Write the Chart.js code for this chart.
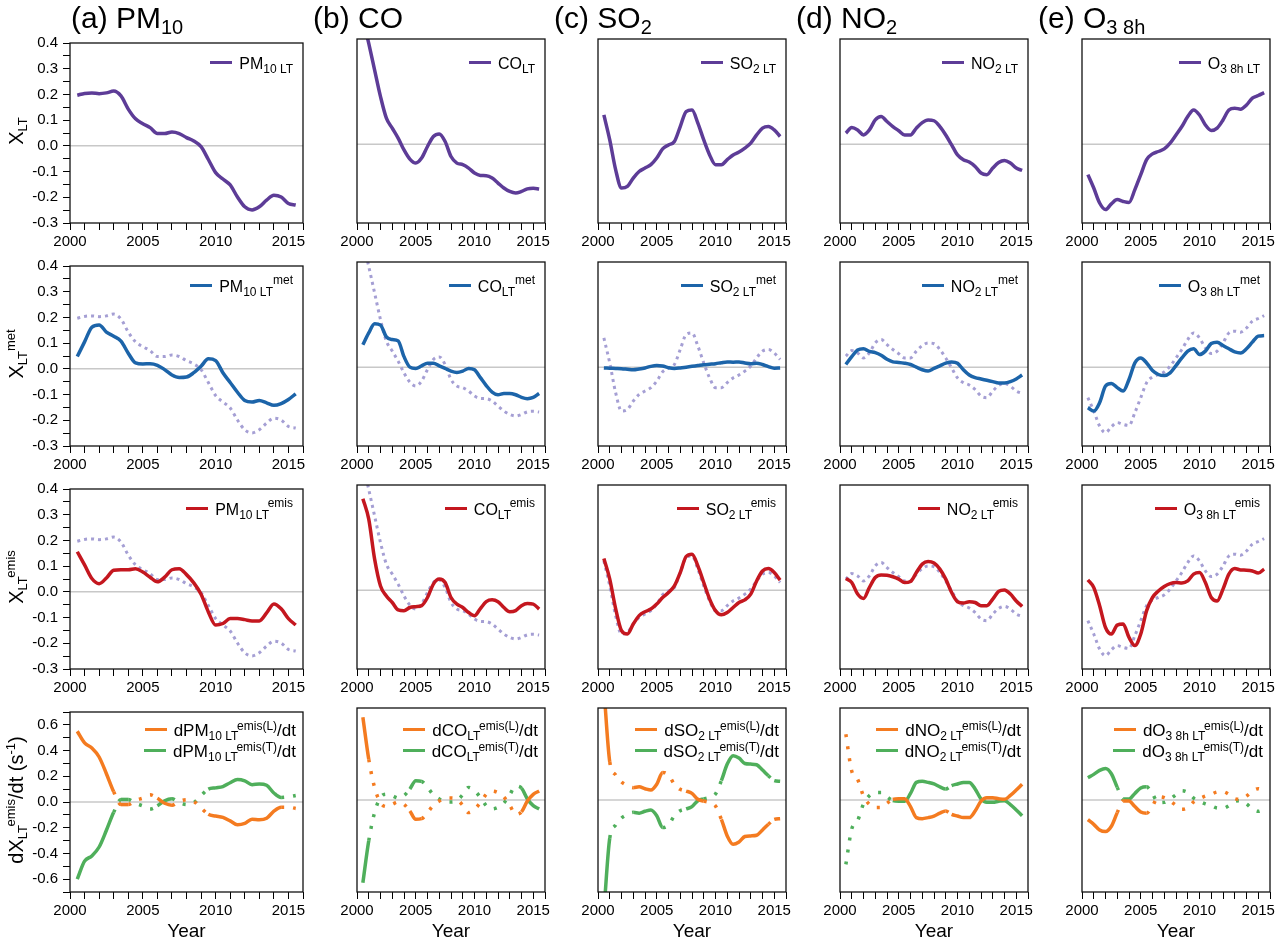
<!DOCTYPE html>
<html>
<head>
<meta charset="utf-8">
<title>Long-term components by pollutant</title>
<script src="https://cdn.jsdelivr.net/npm/chart.js@4.4.1/dist/chart.umd.min.js"></script>
<style>
  body { margin: 0; background: #fff; font-family: "Liberation Sans", Arial, Helvetica, sans-serif; color: #000; }
  #fig { position: relative; width: 1278px; height: 947px; overflow: hidden; }
  #fig canvas { position: absolute; }
  .ttl { position: absolute; font-size: 30px; line-height: 28px; white-space: nowrap; }
  .ttl .sb { font-size: 20px; top: 6px; }
  .leg { position: absolute; font-size: 16px; line-height: 15px; white-space: nowrap; text-align: right; }
  .leg4 { font-size: 17px; line-height: 20px; }
  .ln { display: inline-block; width: 22px; height: 3.5px; margin-right: 7px; vertical-align: 5px; }
  .sb { font-size: 12px; position: relative; top: 4px; }
  .sp { font-size: 12px; position: relative; top: -8px; }
  .leg4 .sb, .leg4 .sp { font-size: 12px; }
  .leg4 .sp { top: -6.5px; }
  .ytl { position: absolute; font-size: 20px; line-height: 20px; white-space: nowrap; transform: translate(-50%, -50%) rotate(-90deg); }
  .ytl .sb, .ytl .sp { font-size: 13px; }
  .ytl .sp { top: -8px; }
</style>
</head>
<body>
<div id="fig"></div>
<script>
// Time axis (decimal years) shared by every panel
const years = [2000.5, 2001, 2001.5, 2002, 2002.5, 2003, 2003.5, 2004, 2004.5, 2005, 2005.5, 2006, 2006.5, 2007, 2007.5,
               2008, 2008.5, 2009, 2009.5, 2010, 2010.5, 2011, 2011.5, 2012, 2012.5, 2013, 2013.5, 2014, 2014.5, 2015, 2015.5];

// Tick labels
const xTickLabels = [2000, 2005, 2010, 2015];
const yTickLabelsX = [-0.3, -0.2, -0.1, 0, 0.1, 0.2, 0.3, 0.4];
const yTickLabelsD = [-0.6, -0.4, -0.2, 0, 0.2, 0.4, 0.6];

// Row 1: long-term component X_LT
const pm10LT = [0.197, 0.204, 0.206, 0.203, 0.206, 0.213, 0.194, 0.143, 0.105, 0.086, 0.071, 0.048, 0.048, 0.054, 0.048, 0.032, 0.019, -0.003, -0.053, -0.104, -0.129, -0.152, -0.199, -0.237, -0.249, -0.237, -0.211, -0.192, -0.199, -0.224, -0.230];
const coLT   = [0.48, 0.383, 0.282, 0.181, 0.099, 0.061, 0.023, -0.022, -0.057, -0.072, -0.053, -0.009, 0.029, 0.039, 0.010, -0.047, -0.072, -0.078, -0.091, -0.110, -0.119, -0.120, -0.129, -0.148, -0.167, -0.180, -0.186, -0.180, -0.170, -0.168, -0.171];
const so2LT  = [0.111, 0.016, -0.097, -0.167, -0.161, -0.129, -0.104, -0.091, -0.078, -0.053, -0.018, -0.003, 0.010, 0.067, 0.124, 0.130, 0.080, 0.016, -0.041, -0.078, -0.078, -0.059, -0.041, -0.030, -0.015, 0.004, 0.035, 0.061, 0.067, 0.054, 0.029];
const no2LT  = [0.042, 0.063, 0.054, 0.035, 0.054, 0.092, 0.105, 0.086, 0.067, 0.051, 0.035, 0.035, 0.061, 0.082, 0.092, 0.089, 0.067, 0.035, -0.003, -0.041, -0.059, -0.068, -0.085, -0.110, -0.116, -0.091, -0.070, -0.062, -0.072, -0.091, -0.100];
const o3LT   = [-0.116, -0.167, -0.224, -0.249, -0.227, -0.211, -0.218, -0.222, -0.173, -0.116, -0.059, -0.037, -0.028, -0.018, 0.004, 0.035, 0.067, 0.105, 0.130, 0.111, 0.073, 0.052, 0.061, 0.092, 0.130, 0.137, 0.133, 0.149, 0.175, 0.185, 0.196];

// Row 2: meteorology-driven part X_LT^met
const pm10Met = [0.048, 0.105, 0.162, 0.171, 0.143, 0.127, 0.108, 0.061, 0.023, 0.019, 0.020, 0.014, -0.003, -0.024, -0.034, -0.032, -0.015, 0.010, 0.039, 0.032, -0.015, -0.053, -0.091, -0.123, -0.129, -0.123, -0.132, -0.142, -0.135, -0.119, -0.097];
const coMet   = [0.085, 0.13, 0.165, 0.16, 0.115, 0.105, 0.10, 0.04, 0.0, -0.005, 0.005, 0.015, 0.015, 0.005, -0.005, -0.015, -0.02, -0.015, -0.005, -0.01, -0.04, -0.07, -0.095, -0.105, -0.10, -0.10, -0.105, -0.115, -0.12, -0.115, -0.10];
const so2Met  = [-0.003, -0.004, -0.005, -0.006, -0.008, -0.01, -0.007, -0.003, 0.003, 0.006, 0.004, -0.002, -0.005, -0.003, 0.0, 0.003, 0.006, 0.009, 0.011, 0.013, 0.017, 0.02, 0.019, 0.02, 0.016, 0.013, 0.015, 0.01, 0.002, -0.004, -0.003];
const no2Met  = [0.01, 0.04, 0.065, 0.07, 0.06, 0.055, 0.045, 0.03, 0.02, 0.018, 0.015, 0.01, 0.0, -0.01, -0.015, -0.005, 0.005, 0.015, 0.02, 0.015, -0.01, -0.03, -0.04, -0.045, -0.05, -0.055, -0.06, -0.06, -0.055, -0.045, -0.03];
const o3Met   = [-0.154, -0.167, -0.135, -0.072, -0.062, -0.078, -0.091, -0.047, 0.016, 0.035, 0.016, -0.013, -0.028, -0.032, -0.022, 0.006, 0.035, 0.061, 0.070, 0.048, 0.061, 0.090, 0.095, 0.082, 0.070, 0.058, 0.054, 0.070, 0.095, 0.118, 0.120];

// Row 3: emission-driven part X_LT^emis
const pm10Emis = [0.156, 0.105, 0.052, 0.032, 0.054, 0.084, 0.086, 0.086, 0.090, 0.077, 0.057, 0.039, 0.057, 0.086, 0.090, 0.067, 0.035, -0.009, -0.078, -0.129, -0.123, -0.104, -0.104, -0.108, -0.113, -0.113, -0.082, -0.047, -0.066, -0.104, -0.129];
const coEmis   = [0.348, 0.270, 0.118, 0.016, -0.022, -0.047, -0.075, -0.078, -0.066, -0.063, -0.059, -0.028, 0.023, 0.042, 0.029, -0.028, -0.053, -0.066, -0.085, -0.097, -0.070, -0.044, -0.037, -0.044, -0.066, -0.082, -0.078, -0.059, -0.051, -0.053, -0.072];
const so2Emis  = [0.120, 0.042, -0.070, -0.154, -0.167, -0.129, -0.097, -0.082, -0.072, -0.053, -0.028, -0.009, 0.016, 0.067, 0.128, 0.137, 0.092, 0.029, -0.034, -0.078, -0.094, -0.085, -0.066, -0.047, -0.037, -0.015, 0.035, 0.073, 0.082, 0.067, 0.038];
const no2Emis  = [0.044, 0.029, -0.015, -0.032, 0.010, 0.048, 0.058, 0.057, 0.051, 0.042, 0.029, 0.033, 0.067, 0.099, 0.109, 0.103, 0.080, 0.042, -0.009, -0.044, -0.049, -0.044, -0.047, -0.059, -0.059, -0.034, -0.005, 0.001, -0.015, -0.041, -0.062];
const o3Emis   = [0.039, 0.010, -0.059, -0.142, -0.167, -0.133, -0.129, -0.180, -0.211, -0.167, -0.078, -0.028, -0.003, 0.014, 0.025, 0.029, 0.027, 0.035, 0.061, 0.067, 0.029, -0.028, -0.041, 0.004, 0.061, 0.082, 0.077, 0.076, 0.073, 0.065, 0.080];

// Row 4: emission rate terms, L (orange) and T (green)
const pm10DL = [0.55, 0.46, 0.42, 0.35, 0.22, 0.08, -0.02, -0.02, 0.013, 0.03, 0.056, 0.03, -0.01, -0.025, 0.005, 0.018, 0.005, -0.046, -0.096, -0.109, -0.12, -0.147, -0.177, -0.167, -0.134, -0.139, -0.127, -0.071, -0.04, -0.04, -0.05];
const pm10DT = [-0.6, -0.46, -0.42, -0.35, -0.22, -0.08, 0.02, 0.02, -0.01, -0.03, -0.055, -0.03, 0.01, 0.025, -0.005, -0.02, -0.005, 0.05, 0.1, 0.11, 0.12, 0.15, 0.175, 0.165, 0.135, 0.14, 0.13, 0.07, 0.035, 0.04, 0.05];
const coDL   = [0.63, 0.31, 0.094, -0.02, -0.05, -0.033, -0.015, -0.033, -0.084, -0.147, -0.142, -0.096, -0.04, -0.008, 0.013, 0.015, 0.005, -0.04, -0.096, -0.071, -0.02, 0.043, 0.068, 0.056, 0.023, -0.04, -0.109, -0.09, -0.008, 0.043, 0.068];
const coDT   = [-0.63, -0.31, -0.094, 0.02, 0.045, 0.033, 0.015, 0.033, 0.084, 0.147, 0.142, 0.096, 0.04, 0.008, -0.013, -0.015, -0.005, 0.04, 0.096, 0.071, 0.02, -0.043, -0.068, -0.056, -0.023, 0.04, 0.106, 0.09, 0.008, -0.043, -0.068];
const so2DL  = [0.85, 0.29, 0.19, 0.137, 0.11, 0.094, 0.10, 0.086, 0.076, 0.12, 0.21, 0.19, 0.12, 0.081, 0.068, 0.05, 0.005, -0.008, -0.02, -0.046, -0.147, -0.273, -0.337, -0.319, -0.278, -0.273, -0.268, -0.228, -0.185, -0.147, -0.142];
const so2DT  = [-0.85, -0.29, -0.19, -0.137, -0.11, -0.094, -0.10, -0.086, -0.076, -0.12, -0.21, -0.19, -0.12, -0.081, -0.068, -0.05, -0.005, 0.008, 0.02, 0.046, 0.147, 0.273, 0.337, 0.319, 0.278, 0.273, 0.268, 0.228, 0.185, 0.147, 0.142];
const no2DL  = [0.50, 0.22, 0.157, 0.03, -0.033, -0.058, -0.058, -0.025, 0.005, 0.01, 0.01, -0.05, -0.134, -0.142, -0.134, -0.122, -0.10, -0.084, -0.109, -0.122, -0.134, -0.134, -0.084, -0.008, 0.018, 0.018, 0.01, 0.005, 0.035, 0.076, 0.12];
const no2DT  = [-0.49, -0.22, -0.157, -0.03, 0.033, 0.058, 0.058, 0.025, -0.005, -0.01, -0.01, 0.05, 0.134, 0.142, 0.134, 0.122, 0.10, 0.084, 0.109, 0.122, 0.134, 0.134, 0.084, 0.008, -0.018, -0.018, -0.01, -0.005, -0.035, -0.076, -0.12];
const o3DL   = [-0.15, -0.185, -0.228, -0.24, -0.20, -0.096, -0.008, -0.008, -0.05, -0.091, -0.10, -0.046, 0.025, 0.018, -0.008, -0.04, -0.071, -0.058, -0.015, 0.01, 0.03, 0.043, 0.061, 0.063, 0.043, 0.01, 0.005, 0.03, 0.068, 0.086, 0.068];
const o3DT   = [0.17, 0.195, 0.225, 0.24, 0.2, 0.096, 0.008, 0.008, 0.05, 0.091, 0.10, 0.046, -0.02, -0.018, 0.008, 0.04, 0.071, 0.058, 0.015, -0.01, -0.03, -0.043, -0.061, -0.063, -0.043, -0.01, -0.005, -0.03, -0.068, -0.086, -0.068];

// Row 4: 1 = significant (solid) segment starting at that point, 0 = dotted
const pm10Sig = [1, 1, 1, 1, 1, 0, 1, 0, 0, 0, 0, 1, 1, 0, 0, 0, 0, 0, 1, 1, 1, 1, 1, 1, 1, 1, 1, 1, 0, 0, 0];
const coSig   = [1, 0, 0, 0, 0, 0, 0, 0, 1, 1, 0, 0, 0, 0, 0, 0, 0, 0, 0, 0, 0, 0, 0, 0, 0, 0, 0, 1, 1, 1, 0];
const so2Sig  = [1, 0, 0, 0, 0, 1, 1, 1, 1, 1, 0, 0, 0, 0, 1, 1, 1, 0, 0, 0, 1, 1, 1, 1, 1, 1, 1, 1, 0, 1, 0];
const no2Sig  = [0, 0, 0, 0, 0, 0, 0, 0, 1, 1, 1, 1, 1, 1, 1, 1, 1, 0, 1, 1, 1, 1, 1, 1, 1, 1, 1, 1, 1, 1, 0];
const o3Sig   = [1, 1, 1, 1, 1, 0, 1, 1, 1, 1, 0, 0, 0, 0, 0, 0, 0, 0, 0, 0, 0, 0, 0, 0, 0, 0, 0, 0, 0, 0, 0];

const LT = [pm10LT, coLT, so2LT, no2LT, o3LT];
const MET = [pm10Met, coMet, so2Met, no2Met, o3Met];
const EMIS = [pm10Emis, coEmis, so2Emis, no2Emis, o3Emis];
const DL = [pm10DL, coDL, so2DL, no2DL, o3DL];
const DT = [pm10DT, coDT, so2DT, no2DT, o3DT];
const SIG = [pm10Sig, coSig, so2Sig, no2Sig, o3Sig];

// Text pieces
const titles = ['(a) PM<span class="sb">10</span>', '(b) CO', '(c) SO<span class="sb">2</span>',
                '(d) NO<span class="sb">2</span>', '(e) O<span class="sb">3 8h</span>'];
const legNames = ['PM<span class="sb">10 LT</span>', 'CO<span class="sb">LT</span>', 'SO<span class="sb">2 LT</span>',
                  'NO<span class="sb">2 LT</span>', 'O<span class="sb">3 8h LT</span>'];
const yTitles = ['X<span class="sb">LT</span>',
                 'X<span class="sb">LT</span><span class="sp">met</span>',
                 'X<span class="sb">LT</span><span class="sp">emis</span>',
                 'dX<span class="sb">LT</span><span class="sp">emis</span>/dt (s<span class="sp">-1</span>)'];

// Colours
const PURPLE = '#5d3c97', BLUE = '#1c64a9', RED = '#c4171f', ORANGE = '#f47b20', GREEN = '#4faf5b', LAVENDER = '#a59fd4';

// Layout of the 5 x 4 panel grid (frame positions in page pixels)
const colLeft = [70, 312, 553, 795, 1037];
const rowTop = [39, 262, 485, 708];
const PW = 233, PH = 184;

const fig = document.getElementById('fig');
Chart.defaults.font.family = '"Liberation Sans", Arial, Helvetica, sans-serif';
Chart.defaults.color = '#000';

// zero line behind the data, black frame on top
const framePlugin = {
    id: 'frame',
    beforeDatasetsDraw(chart) {
        const { ctx, chartArea: a, scales: { y } } = chart;
        const y0 = y.getPixelForValue(0);
        ctx.save();
        ctx.strokeStyle = '#c8c8c8';
        ctx.lineWidth = 1.5;
        ctx.beginPath();
        ctx.moveTo(a.left, y0);
        ctx.lineTo(a.right, y0);
        ctx.stroke();
        ctx.restore();
    },
    afterDatasetsDraw(chart) {
        const { ctx, chartArea: a } = chart;
        ctx.save();
        ctx.strokeStyle = '#111';
        ctx.lineWidth = 1.3;
        ctx.strokeRect(a.left, a.top, a.right - a.left, a.bottom - a.top);
        ctx.restore();
    }
};

function pts(values) {
    return years.map((x, i) => ({ x: x, y: values[i] }));
}

function addHtml(cls, html, style) {
    const d = document.createElement('div');
    d.className = cls;
    d.innerHTML = html;
    Object.assign(d.style, style);
    fig.appendChild(d);
    return d;
}

function makePanel(col, row, datasets) {
    const bottomRow = row === 3;
    const yw = col === 0 ? 70 : 45;
    const xh = bottomRow ? 51 : 30;
    const padTop = 10, padRight = 12;

    const canvas = document.createElement('canvas');
    canvas.width = yw + PW + padRight;
    canvas.height = padTop + PH + xh;
    canvas.style.left = (colLeft[col] - yw) + 'px';
    canvas.style.top = (rowTop[row] - padTop) + 'px';
    fig.appendChild(canvas);

    const yLabels = bottomRow ? yTickLabelsD : yTickLabelsX;

    return new Chart(canvas.getContext('2d'), {
        type: 'line',
        data: { datasets: datasets },
        options: {
            responsive: false,
            animation: false,
            events: [],
            layout: { padding: { left: col === 0 ? 0 : yw, top: padTop, right: padRight, bottom: 0 } },
            plugins: { legend: { display: false }, tooltip: { enabled: false } },
            elements: {
                point: { radius: 0 },
                line: { cubicInterpolationMode: 'monotone', borderCapStyle: 'butt' }
            },
            scales: {
                x: {
                    type: 'linear',
                    min: 2000,
                    max: 2016,
                    ticks: {
                        stepSize: 1,
                        autoSkip: false,
                        maxRotation: 0,
                        padding: 3,
                        font: { size: 15 },
                        callback: v => {
                            const r = Math.round(v);
                            return Math.abs(v - r) < 1e-6 && xTickLabels.includes(r) ? String(r) : '';
                        }
                    },
                    grid: { drawOnChartArea: false, drawTicks: true, tickLength: 7, color: '#000', lineWidth: 1 },
                    border: { display: false },
                    title: { display: bottomRow, text: 'Year', font: { size: 19 }, padding: 0 },
                    afterFit: s => { s.height = xh; }
                },
                y: {
                    display: col === 0,
                    min: bottomRow ? -0.7 : -0.3,
                    max: bottomRow ? 0.7 : 0.4,
                    ticks: {
                        stepSize: bottomRow ? 0.1 : 0.05,
                        autoSkip: false,
                        padding: 5,
                        font: { size: 15 },
                        callback: v => {
                            const t = Math.round(v * 100) / 100;
                            return yLabels.includes(t) ? t.toFixed(1) : '';
                        }
                    },
                    grid: { drawOnChartArea: false, drawTicks: true, tickLength: 7, color: '#000', lineWidth: 1 },
                    border: { display: false },
                    afterFit: s => { s.width = yw; }
                }
            }
        },
        plugins: [framePlugin]
    });
}

for (let col = 0; col < 5; col++) {
    // rows 1-3
    makePanel(col, 0, [
        { data: pts(LT[col]), borderColor: PURPLE, borderWidth: 3.5 }
    ]);
    makePanel(col, 1, [
        { data: pts(MET[col]), borderColor: BLUE, borderWidth: 3.5 },
        { data: pts(LT[col]), borderColor: LAVENDER, borderWidth: 3, borderDash: [3, 4] }
    ]);
    makePanel(col, 2, [
        { data: pts(EMIS[col]), borderColor: RED, borderWidth: 3.5 },
        { data: pts(LT[col]), borderColor: LAVENDER, borderWidth: 3, borderDash: [3, 4] }
    ]);
    // row 4: dotted where the term is not significant
    const sig = SIG[col];
    const segStyle = { borderDash: ctx => (sig[ctx.p0DataIndex] ? [] : [3, 9]) };
    makePanel(col, 3, [
        { data: pts(DL[col]), borderColor: ORANGE, borderWidth: 3.5, segment: segStyle },
        { data: pts(DT[col]), borderColor: GREEN, borderWidth: 3.5, segment: segStyle }
    ]);

    // column title
    addHtml('ttl', titles[col], { left: (colLeft[col] + 1) + 'px', top: '4px' });

    // legends
    const right = (1278 - (colLeft[col] + PW) + 10) + 'px';
    const rowColors = [PURPLE, BLUE, RED];
    const rowSup = ['', '<span class="sp">met</span>', '<span class="sp">emis</span>'];
    for (let row = 0; row < 3; row++) {
        addHtml('leg', '<span class="ln" style="background:' + rowColors[row] + '"></span>' + legNames[col] + rowSup[row],
                { right: right, top: (rowTop[row] + 17) + 'px' });
    }
    addHtml('leg leg4',
            '<span class="ln" style="background:' + ORANGE + '"></span>d' + legNames[col] + '<span class="sp">emis(L)</span>/dt<br>' +
            '<span class="ln" style="background:' + GREEN + '"></span>d' + legNames[col] + '<span class="sp">emis(T)</span>/dt',
            { right: (1278 - (colLeft[col] + PW) + 7) + 'px', top: (rowTop[3] + 13) + 'px' });
}

// y-axis titles
for (let row = 0; row < 4; row++) {
    addHtml('ytl', yTitles[row], { left: '17px', top: (rowTop[row] + PH / 2) + 'px' });
}
</script>
</body>
</html>
